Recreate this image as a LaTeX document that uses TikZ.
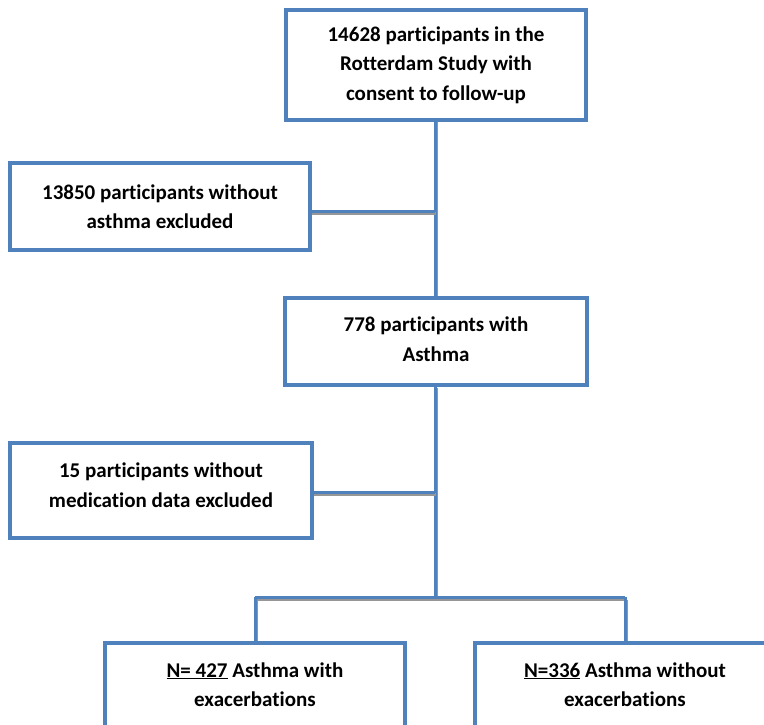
\documentclass[tikz,border=0pt]{standalone}
\usepackage{fontspec}
\setmainfont{Carlito}[RawFeature={-liga;-clig;-calt;-dlig}]
\definecolor{boxblue}{RGB}{79,129,189}
\definecolor{shadowgray}{RGB}{150,150,150}
\begin{document}
\begin{tikzpicture}[x=1pt,y=-1pt,
  flowbox/.style={draw=boxblue, line width=4pt, fill=white, align=center,
    inner sep=0pt, font=\fontsize{21}{29.5}\selectfont\bfseries},
  boxtext/.style={align=center, inner sep=0pt, font=\fontsize{21}{29.5}\selectfont\bfseries},
  conn/.style={draw=boxblue, line width=3pt,
    preaction={draw=shadowgray, line width=3pt, transform canvas={xshift=1pt,yshift=-2.5pt}}}
]
\clip (0,0) rectangle (764,725);
\fill[white] (0,0) rectangle (764,725);
% connectors first (behind boxes)
\coordinate (split) at (435,597);
\coordinate (splitL) at (255,597);
\coordinate (splitR) at (625,597);
\coordinate (j1) at (435,211);
\coordinate (j2) at (435,492);
\draw[conn] (435,120) -- (435,298);
\draw[conn] (310,211) -- (j1);
\draw[conn] (435,385) -- (split);
\draw[conn] (312,492) -- (j2);
\draw[conn] (splitL) -- (splitR);
\draw[conn] (splitL) -- (255,643);
\draw[conn] (splitR) -- (625,643);
% boxes
\node[flowbox, minimum width=300, minimum height=110] (top) at (436,65)
  {14628 participants in the\\Rotterdam Study with\\consent to follow-up};
\node[flowbox, minimum width=300, minimum height=87] (excl1) at (160,206.5)
  {13850 participants without\\asthma excluded};
\node[flowbox, minimum width=302, minimum height=87] (mid) at (436,341.5) {};
\node[boxtext] (midtext) at (436,339)
  {778 participants with\\Asthma};
\node[flowbox, minimum width=302, minimum height=95] (excl2) at (161,490.5) {};
\node[boxtext] (excl2text) at (161,485)
  {15 participants without\\medication data excluded};
\node[flowbox, minimum width=300, minimum height=88] (left) at (255,687) {};
\node[boxtext] (lefttext) at (255,684.5)
  {\underline{N= 427} Asthma with\\exacerbations};
\node[flowbox, minimum width=300, minimum height=88] (right) at (625,687) {};
\node[boxtext] (righttext) at (625,684.5)
  {\underline{N=336} Asthma without\\exacerbations};
\end{tikzpicture}
\end{document}
